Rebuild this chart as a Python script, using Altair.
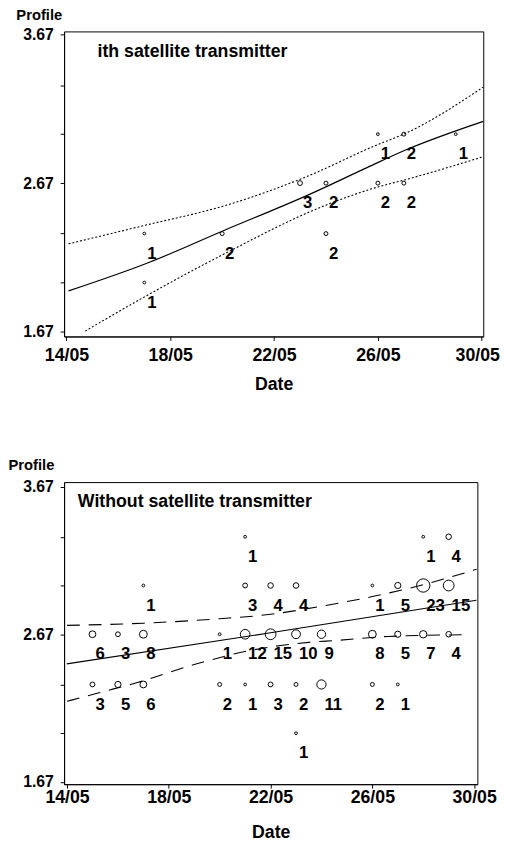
import altair as alt
import pandas as pd

FONT = "Liberation Sans"

# ---------------- Panel 1 : with satellite transmitter ----------------
p1_title = "ith satellite transmitter"
p1_day = [26, 27, 29, 23, 24, 26, 27, 17, 20, 24, 17]
p1_profile = [3.0, 3.0, 3.0, 2.67, 2.67, 2.67, 2.67, 2.33, 2.33, 2.33, 2.0]
p1_count = [1, 2, 1, 3, 2, 2, 2, 1, 2, 2, 1]

p1_fit_day = [14.08, 17.2, 20.0, 23.3, 25.6, 27.0, 30.06]
p1_fit = [1.944, 2.137, 2.346, 2.589, 2.776, 2.888, 3.086]
p1_up_day = [14.08, 17.03, 20.1, 23.2, 26.0, 27.0, 30.06]
p1_up = [2.261, 2.386, 2.518, 2.71, 2.93, 3.0, 3.317]
p1_lo_day = [14.72, 17.03, 20.1, 24.04, 26.0, 27.0, 30.06]
p1_lo = [1.673, 1.906, 2.195, 2.525, 2.644, 2.69, 2.848]

# ---------------- Panel 2 : without satellite transmitter ----------------
p2_title = "Without satellite transmitter"
p2_day = [21, 28, 29,
          17, 21, 22, 23, 26, 27, 28, 29,
          15, 16, 17, 20, 21, 22, 23, 24, 26, 27, 28, 29,
          15, 16, 17, 20, 21, 22, 23, 24, 26, 27,
          23]
p2_profile = [3.33] * 3 + [3.0] * 8 + [2.67] * 12 + [2.33] * 10 + [2.0]
p2_count = [1, 1, 4,
            1, 3, 4, 4, 1, 5, 23, 15,
            6, 3, 8, 1, 12, 15, 10, 9, 8, 5, 7, 4,
            3, 5, 6, 2, 1, 3, 2, 11, 2, 1,
            1]

p2_fit_day = [13.99, 22.0, 30.09]
p2_fit = [2.47, 2.68, 2.90]
p2_up_day = [14.0, 17.0, 20.0, 22.0, 24.0, 26.0, 28.0, 30.1]
p2_up = [2.73, 2.745, 2.775, 2.805, 2.86, 2.925, 3.005, 3.11]
p2_lo_day = [14.0, 15.3, 16.7, 19.1, 21.2, 23.5, 24.6, 26.6, 29.8]
p2_lo = [2.216, 2.276, 2.34, 2.47, 2.56, 2.615, 2.628, 2.655, 2.667]

# ---------------- axes ----------------
x_ticks = [14, 18, 22, 26, 30]
x_tick_labels = ["14/05", "18/05", "22/05", "26/05", "30/05"]
y_ticks = [1.67, 2.0, 2.33, 2.67, 3.0, 3.33, 3.67]
y_labelled = [1.67, 2.67, 3.67]

x_label_expr = "[" + ",".join("'%s'" % s for s in x_tick_labels) + "][indexof([" + \
    ",".join(str(v) for v in x_ticks) + "], datum.value)]"
y_label_expr = "indexof([" + ",".join(str(v) for v in y_labelled) + \
    "], datum.value) >= 0 ? format(datum.value, '.2f') : ''"


def panel(title, day, profile, count, fit_day, fit, up_day, up, lo_day, lo,
          dash, width, height, xdom, ydom, title_x, title_y, txt_x, txt_y,
          label_pad, title_pad, flush, flush_offset):
    pts = pd.DataFrame({"day": day, "profile": profile, "count": count})
    x_enc = alt.X("day:Q", scale=alt.Scale(domain=xdom, nice=False, zero=False),
                  axis=alt.Axis(values=x_ticks, labelExpr=x_label_expr, title="Date",
                                labelFontSize=18, titleFontSize=18,
                                labelFlush=flush, labelFlushOffset=flush_offset,
                                labelPadding=label_pad, titlePadding=title_pad))
    y_enc = alt.Y("profile:Q", scale=alt.Scale(domain=ydom, nice=False, zero=False),
                  axis=alt.Axis(values=y_ticks, labelExpr=y_label_expr, title="Profile",
                                labelFontSize=16, titleFontSize=15,
                                titleAngle=0, titleAlign="left", titleBaseline="middle",
                                titleX=title_x, titleY=title_y, labelPadding=7))
    circles = alt.Chart(pts).mark_point(shape="circle", filled=False, color="black",
                                         strokeWidth=1, opacity=1).encode(
        x=x_enc, y=y_enc,
        size=alt.Size("count:Q", scale=alt.Scale(domain=[0, 23], range=[0, 184]),
                      legend=None))
    labels = alt.Chart(pts).mark_text(align="left", baseline="middle", dx=3, dy=20.5,
                                      font=FONT, fontSize=17, fontWeight="bold",
                                      color="black").encode(
        x="day:Q", y="profile:Q", text="count:Q")
    mid = alt.Chart(pd.DataFrame({"day": fit_day, "profile": fit})).mark_line(
        color="black", strokeWidth=1.2, interpolate="monotone").encode(
        x="day:Q", y="profile:Q")
    upper = alt.Chart(pd.DataFrame({"day": up_day, "profile": up})).mark_line(
        color="black", strokeWidth=1.1, strokeDash=dash, interpolate="monotone").encode(
        x="day:Q", y="profile:Q")
    lower = alt.Chart(pd.DataFrame({"day": lo_day, "profile": lo})).mark_line(
        color="black", strokeWidth=1.1, strokeDash=dash, interpolate="monotone").encode(
        x="day:Q", y="profile:Q")
    txt = alt.Chart(pd.DataFrame({"t": [title]})).mark_text(
        align="left", baseline="middle", font=FONT, fontSize=18, fontWeight="bold",
        color="black").encode(text="t:N", x=alt.value(txt_x), y=alt.value(txt_y))
    return alt.layer(circles, labels, mid, upper, lower, txt).properties(
        width=width, height=height)


top = panel(p1_title, p1_day, p1_profile, p1_count, p1_fit_day, p1_fit,
            p1_up_day, p1_up, p1_lo_day, p1_lo, [2, 2], 426, 310,
            [13.909, 30.061], [1.637, 3.692], -49, -17.5, 34, 21, 6, 12, 2, 18)
bottom = panel(p2_title, p2_day, p2_profile, p2_count, p2_fit_day, p2_fit,
               p2_up_day, p2_up, p2_lo_day, p2_lo, [13, 9], 420, 307,
               [13.884, 30.128], [1.655, 3.70], -57, -18, 14, 20, 1, 17, 0, 0)

chart = alt.vconcat(top, bottom, spacing=148, bounds="flush").properties(
    padding={"left": -1, "top": -8, "right": 0, "bottom": -4}
).configure_axis(
    grid=False, domainColor="black", tickColor="black", tickSize=4,
    labelFont=FONT, labelFontWeight="bold", labelColor="black",
    titleFont=FONT, titleFontWeight="bold", titleColor="black",
    domainWidth=1, tickWidth=1
).configure_view(stroke="black", strokeWidth=1)

chart.save("out.html", embed_options={"renderer": "svg", "actions": False})
